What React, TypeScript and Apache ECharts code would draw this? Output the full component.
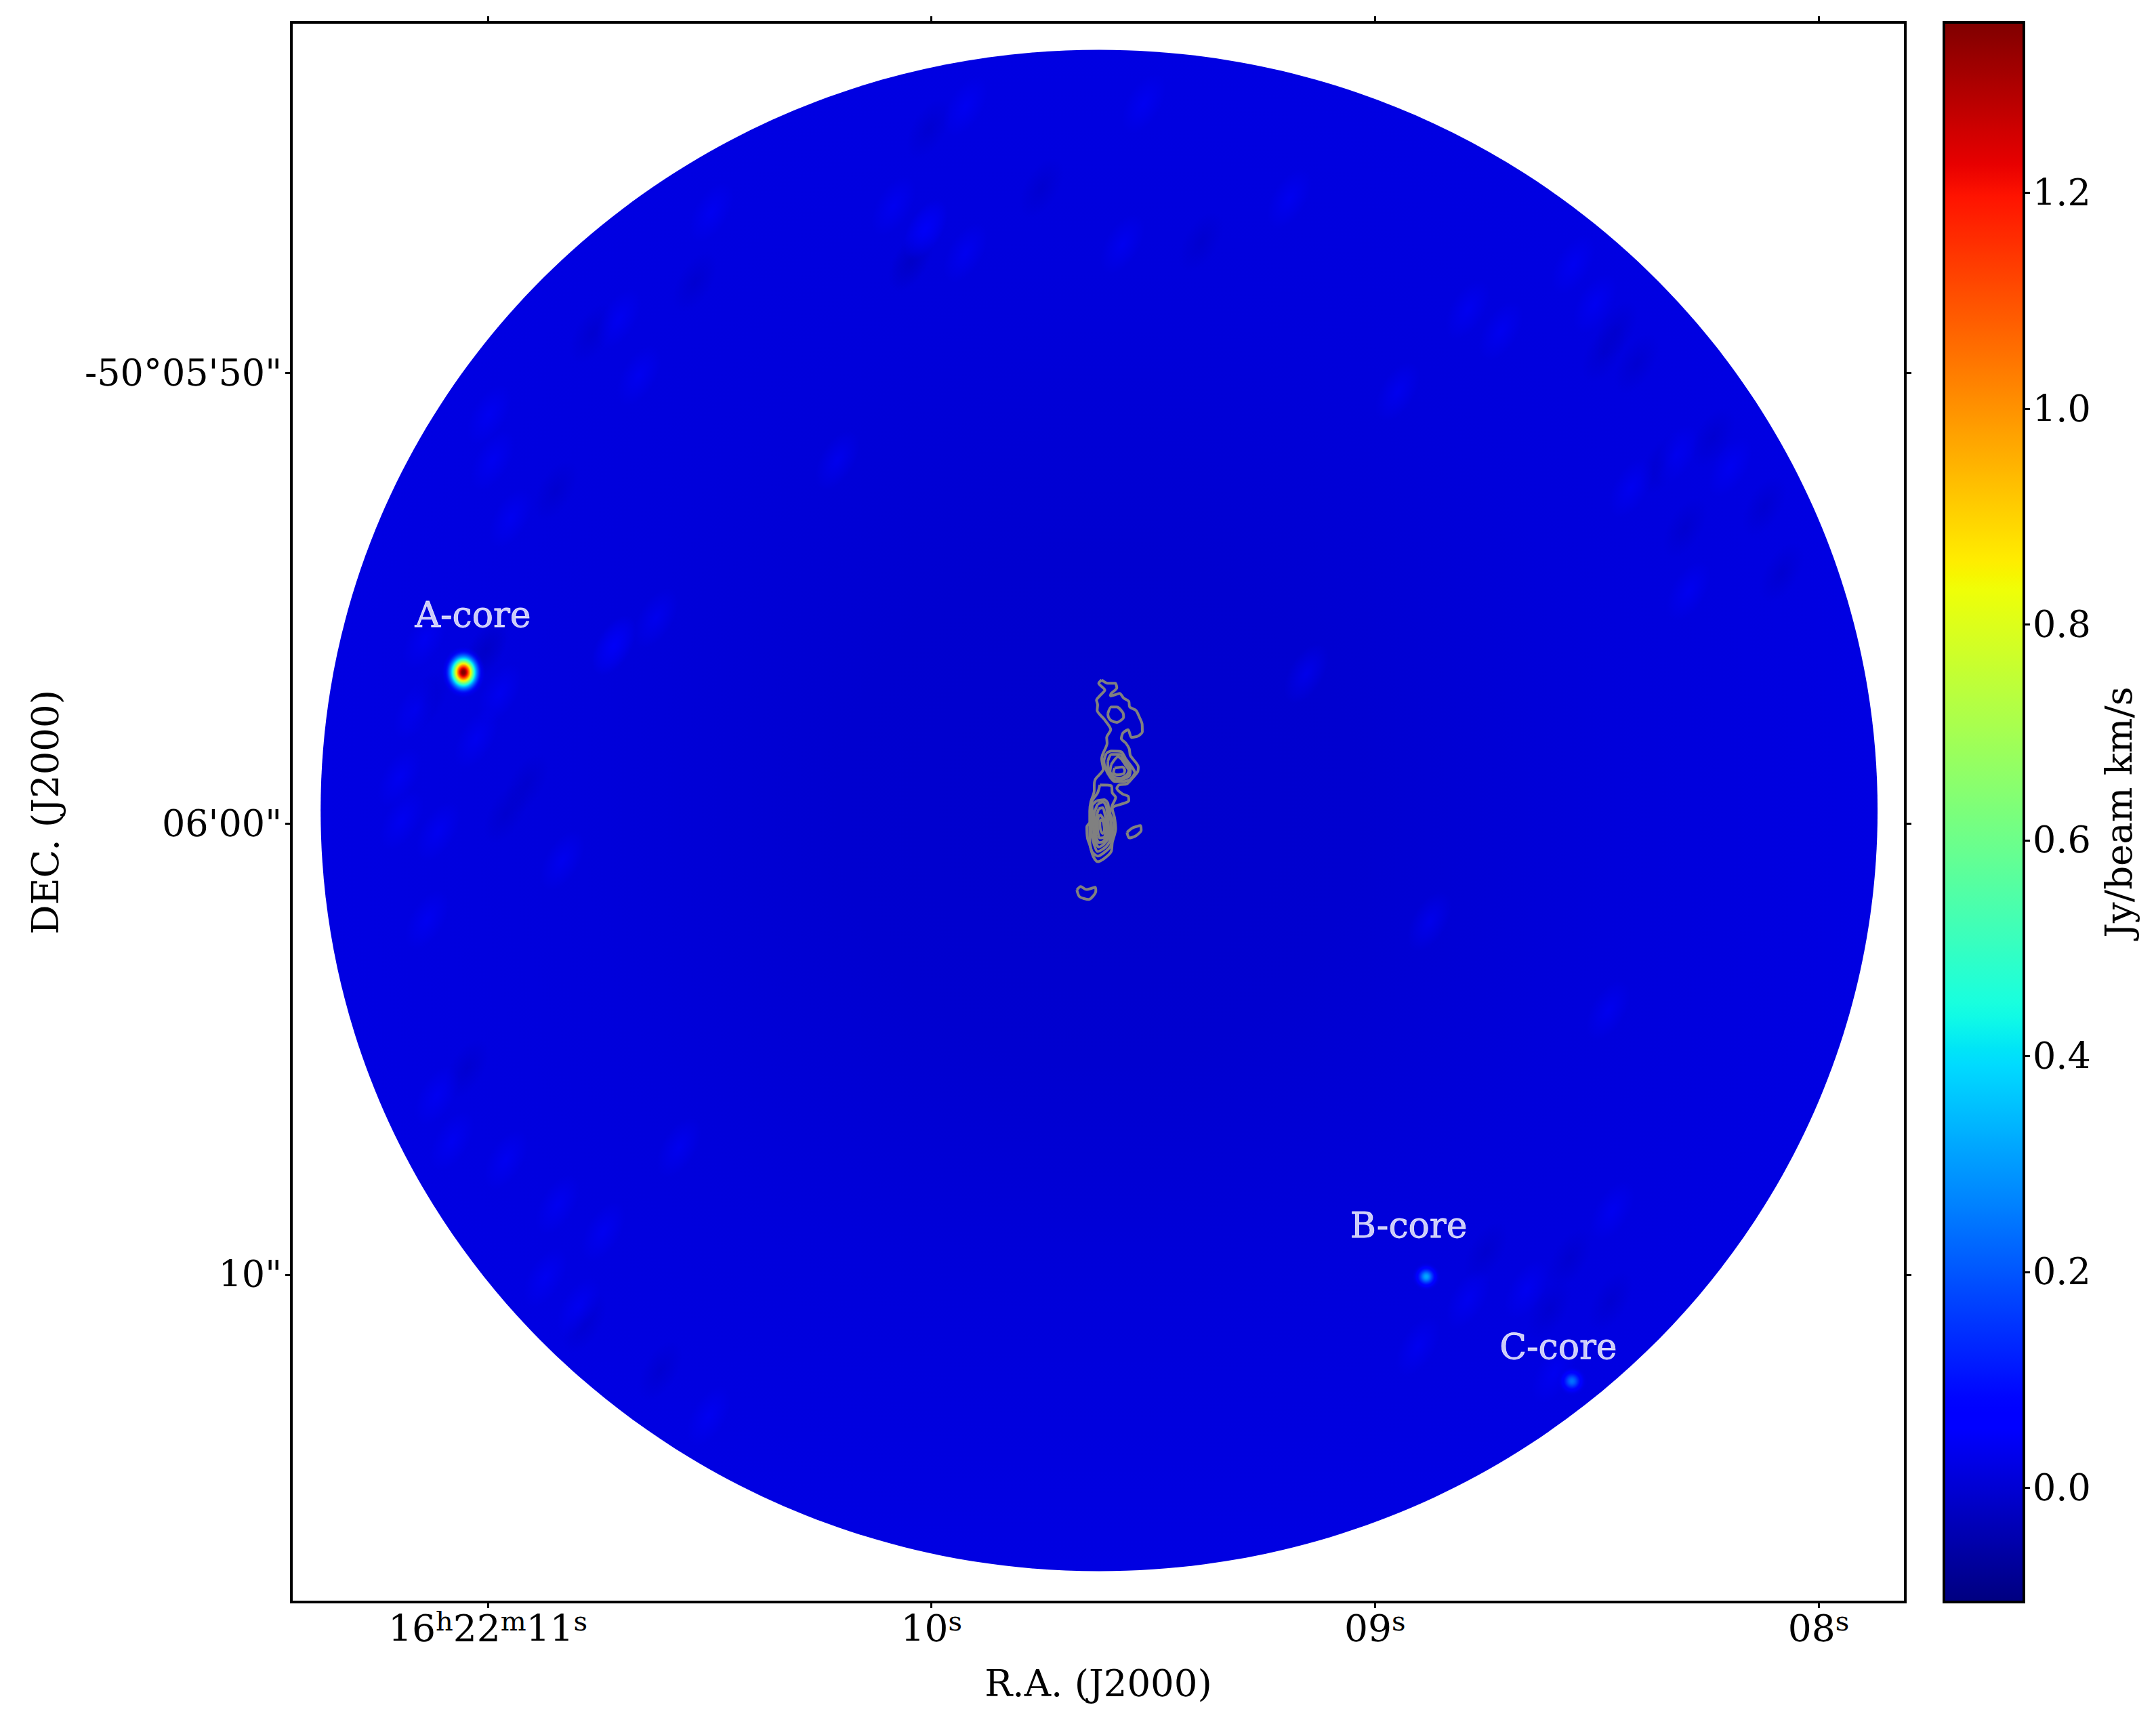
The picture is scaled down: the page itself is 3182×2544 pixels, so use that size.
import React, { useEffect, useRef } from "react";
import * as echarts from "echarts";

// ---- axes (R.A. seconds after 16h22m, Dec arcseconds after -50d05m) ----
const RA_MIN = 7.8045, RA_MAX = 11.443;
const DEC_MIN = 42.23, DEC_MAX = 77.26;
const raTicks = [8, 9, 10, 11];
const decTicks = [50, 60, 70];
const decLabels: Record<number, string> = { 50: "-50°05'50\"", 60: "06'00\"", 70: '10"' };
const CB_MIN = -0.106, CB_MAX = 1.358;
const cbTicks = [0, 0.2, 0.4, 0.6, 0.8, 1.0, 1.2];

// ---- primary-beam disk: ra, dec, radius in ra (s), radius in dec (") ----
const disk = [9.622, 59.707, 1.755, 16.87];
const diskLevels = [-0.008, -0.004, 0.01, 0.018]; // Jy/beam km/s, centre to rim

// ---- compact cores: ra, dec, peak, sigma ra, sigma dec ----
const cores = [
  [11.055, 56.642, 1.36, 0.0163, 0.19],
  [8.8845, 70.045, 0.3, 0.0107, 0.105],
  [8.556, 72.36, 0.22, 0.0115, 0.113],
];
const coreLabels: [string, number, number][] = [
  ["A-core", 11.0336, 55.364],
  ["B-core", 8.924, 68.9],
  ["C-core", 8.5867, 71.6],
];

// ---- faint emission blotches: ra, dec ----
const brightPatches = [
  [11.142, 55.91], [11.301, 58.87], [11.199, 58.97], [11.163, 57.47], [11.026, 58.11], [10.973, 57.11],
  [11.194, 59.92], [11.112, 60.17], [10.832, 60.82], [11.321, 60.92], [11.27, 62.17], [11.137, 62.13],
  [10.714, 56.06], [9.923, 44.09], [9.521, 44.03], [9.815, 43.24], [10.012, 46.8], [9.569, 47.15],
  [9.193, 46.14], [9.923, 47.34], [8.877, 62.17], [8.474, 64.14], [8.877, 44.79], [10.085, 46.3],
  [9.155, 56.67], [8.536, 46.92], [8.658, 70.33], [8.79, 70.54], [8.903, 71.59], [8.465, 68.59],
  [8.597, 72.19], [8.622, 72.69],
  [11.081, 67.04], [11.026, 69.05], [11.034, 69.38], [10.959, 67.45], [10.87, 70.06], [10.795, 70.72],
  [10.665, 72.87], [10.502, 73.14], [10.297, 74.42], [10.146, 74.96], [10.843, 68.45], [10.569, 67.18],
  [11.115, 66.03], [10.74, 69.05],
  [8.553, 47.6], [8.504, 48.47], [8.716, 49.07], [8.199, 50.56], [8.136, 51.16], [8.321, 51.82],
  [8.199, 52.09], [8.075, 52.96], [8.293, 54.84], [8.791, 48.6], [8.949, 50.42], [8.423, 52.55],
  [10.812, 48.39], [10.997, 50.93], [10.496, 46.44], [10.948, 53.22], [10.989, 51.94], [10.649, 47.01],
  [10.659, 50.06], [10.704, 48.8], [10.015, 46.84], [10.717, 56.04], [10.212, 51.94], [10.621, 55.44],
];
const darkPatches = [
  [11.005, 56.12], [11.137, 57.26], [11.341, 57.92], [10.913, 59.12], [10.959, 59.77], [9.425, 43.19],
  [9.705, 42.94], [9.752, 45.9], [9.392, 47.1], [10.006, 44.59], [10.045, 47.55], [8.561, 69.64],
  [8.607, 70.78], [8.75, 69.49], [8.469, 70.59],
  [10.679, 72.27], [10.611, 72.13], [10.782, 71.07], [10.849, 71.47], [11.156, 66.9], [10.549, 73.41], [11.047, 65.43],
  [8.327, 48.6], [8.484, 49.55], [8.41, 49.8], [8.225, 50.48], [8.238, 51.43], [8.096, 51.76],
  [8.354, 52.03], [8.301, 53.44], [8.122, 52.96], [7.994, 54.7], [8.083, 54.43], [8.457, 49.07],
  [10.928, 49.73], [10.765, 47.11], [10.765, 49.13], [10.048, 47.52], [10.847, 52.61], [10.629, 46.84],
  [10.533, 47.99], [11.003, 56.18],
];
const BRIGHT_LEVEL = 0.055, DARK_LEVEL = -0.03;
const PATCH_RA = 0.075, PATCH_DEC = 0.38;

// ---- gray contours, as map offsets from a reference position ----
const CONTOUR_RA0 = 9.7475, CONTOUR_DEC0 = 56.461, CONTOUR_STEP_RA = 0.000509, CONTOUR_STEP_DEC = 0.005009;
const contours: number[][][] = [
  [[258,70],[285,85],[318,85],[325,105],[300,130],[296,142],[320,135],[338,130],[355,150],[378,165],[382,190],[410,205],[425,235],[437,265],[438,300],[420,318],[390,325],[375,290],[352,305],[345,330],[365,350],[380,375],[385,405],[420,455],[418,475],[390,510],[370,530],[335,535],[325,550],[350,575],[375,585],[378,605],[345,620],[318,628],[305,640],[315,680],[320,730],[305,790],[300,830],[270,860],[240,875],[220,850],[205,800],[195,770],[192,720],[205,700],[205,650],[210,610],[225,560],[225,540],[230,510],[265,465],[258,420],[262,400],[282,350],[280,325],[298,290],[270,245],[238,205],[240,180],[235,160],[250,140],[272,115],[245,85],[258,70]],
  [[285,220],[300,190],[325,190],[352,215],[355,235],[325,258],[300,250],[288,235],[285,220]],
  [[278,395],[300,385],[345,388],[365,420],[395,460],[405,480],[385,510],[355,520],[315,520],[295,500],[278,470],[268,430],[278,395]],
  [[285,430],[300,400],[340,400],[360,430],[385,465],[380,495],[350,510],[320,515],[300,495],[285,460],[285,430]],
  [[300,445],[330,410],[345,420],[365,450],[378,470],[370,490],[340,505],[315,500],[295,475],[300,445]],
  [[315,460],[350,455],[360,470],[355,485],[325,490],[310,480],[315,460]],
  [[250,535],[300,538],[305,570],[320,590],[305,625],[295,660],[310,700],[305,770],[295,810],[240,850],[215,830],[205,780],[205,720],[215,660],[215,610],[240,570],[250,535]],
  [[235,605],[270,600],[285,615],[290,650],[298,700],[295,780],[275,810],[240,830],[225,800],[212,740],[218,680],[215,630],[235,605]],
  [[240,620],[265,610],[278,630],[285,680],[290,760],[270,795],[245,810],[228,780],[222,720],[225,660],[240,620]],
  [[245,640],[262,635],[275,680],[285,750],[265,785],[245,790],[232,750],[232,690],[245,640]],
  [[250,665],[262,680],[278,720],[270,765],[250,770],[240,730],[240,690],[250,665]],
  [[255,685],[265,700],[270,740],[262,750],[252,730],[250,700],[255,685]],
  [[370,745],[395,725],[430,715],[433,735],[410,760],[380,770],[370,745]],
  [[148,1000],[165,985],[190,998],[230,988],[232,1005],[200,1042],[160,1030],[148,1000]],
];

const SERIF = "'DejaVu Serif'";

// matplotlib "jet" transfer functions
const jetR = [[0, 0], [0.35, 0], [0.66, 1], [0.89, 1], [1, 0.5]];
const jetG = [[0, 0], [0.125, 0], [0.375, 1], [0.64, 1], [0.91, 0], [1, 0]];
const jetB = [[0, 0.5], [0.11, 1], [0.34, 1], [0.65, 0], [1, 0]];
function lerpTable(tab: number[][], t: number) {
  for (let i = 1; i < tab.length; i++) {
    if (t <= tab[i][0]) {
      const [a, va] = tab[i - 1];
      const [b, vb] = tab[i];
      return va + ((vb - va) * (t - a)) / (b - a);
    }
  }
  return tab[tab.length - 1][1];
}
function jetAt(t: number, alpha = 1) {
  const c = Math.max(0, Math.min(1, t));
  const f = (tab: number[][]) => Math.round(255 * lerpTable(tab, c));
  return `rgba(${f(jetR)},${f(jetG)},${f(jetB)},${alpha})`;
}
const valueColor = (v: number, alpha = 1) => jetAt((v - CB_MIN) / (CB_MAX - CB_MIN), alpha);

function ellipseFrom(api: any, ra: number, dec: number, dRa: number, dDec: number) {
  const c = api.coord([ra, dec]);
  const e = api.coord([ra + dRa, dec + dDec]);
  return { cx: c[0], cy: c[1], rx: Math.abs(e[0] - c[0]), ry: Math.abs(e[1] - c[1]) };
}
// keep blotches wholly inside the disk
const insideDisk = ([ra, dec]: number[]) =>
  Math.hypot((ra - disk[0]) / disk[2], (dec - disk[1]) / disk[3]) < 0.945;

export default function App() {
  const ref = useRef<HTMLDivElement>(null);
  useEffect(() => {
    document.body.style.margin = "0";
    const chart = echarts.init(ref.current!, undefined, { renderer: "svg" });
    const RG = (echarts.graphic as any).RadialGradient;
    const LG = (echarts.graphic as any).LinearGradient;

    const tickStyle = { show: true, inside: false, length: 9, lineStyle: { color: "#000", width: 3 } };
    const lineStyle = { show: true, onZero: false, lineStyle: { color: "#000", width: 4 } };
    const raLabel = (v: number) =>
      v === 11 ? "{n|16}{s|h}{n|22}{s|m}{n|11}{s|s}" : `{n|${String(v).padStart(2, "0")}}{s|s}`;

    const contourSeries = contours.map((c) => ({
      type: "line",
      xAxisIndex: 0,
      yAxisIndex: 0,
      silent: true,
      showSymbol: false,
      smooth: 0.25,
      z: 6,
      lineStyle: { color: "#808080", width: 4 },
      data: c.map(([x, y]) => [CONTOUR_RA0 - x * CONTOUR_STEP_RA, CONTOUR_DEC0 + y * CONTOUR_STEP_DEC]),
    }));

    const patchSeries = (rows: number[][], level: number, alpha: number, z: number) => ({
      type: "custom",
      xAxisIndex: 0,
      yAxisIndex: 0,
      silent: true,
      clip: true,
      z,
      data: rows.filter(insideDisk),
      encode: { x: 0, y: 1 },
      renderItem: (_: any, api: any) => {
        const e = ellipseFrom(api, api.value(0), api.value(1), PATCH_RA, PATCH_DEC);
        return {
          type: "ellipse",
          x: e.cx,
          y: e.cy,
          rotation: Math.PI / 3,
          shape: { cx: 0, cy: 0, rx: e.rx, ry: e.ry },
          style: {
            fill: new RG(0.5, 0.5, 0.5, [
              { offset: 0, color: valueColor(level, alpha) },
              { offset: 1, color: valueColor(level, 0) },
            ]),
          },
        };
      },
    });

    const option: any = {
      animation: false,
      backgroundColor: "#fff",
      textStyle: { fontFamily: SERIF },
      grid: [
        { left: 430, top: 33, width: 2382, height: 2331, show: true, borderColor: "#000", borderWidth: 4, backgroundColor: "transparent" },
        { left: 2869, top: 33, width: 118, height: 2331 },
      ],
      xAxis: [
        {
          type: "value", gridIndex: 0, position: "bottom", inverse: true, min: RA_MIN, max: RA_MAX,
          name: "R.A. (J2000)", nameLocation: "middle", nameGap: 92,
          nameTextStyle: { fontFamily: SERIF, fontSize: 54.5, color: "#000" },
          axisLine: lineStyle, axisTick: { ...tickStyle, customValues: raTicks }, splitLine: { show: false },
          axisLabel: {
            customValues: raTicks, margin: 8, formatter: raLabel, color: "#000", fontFamily: SERIF,
            rich: {
              n: { fontFamily: SERIF, fontSize: 55, color: "#000", lineHeight: 62 },
              s: { fontFamily: SERIF, fontSize: 40, color: "#000", verticalAlign: "top", lineHeight: 44 },
            },
          },
        },
        {
          type: "value", gridIndex: 0, position: "top", inverse: true, min: RA_MIN, max: RA_MAX,
          axisLine: lineStyle, axisTick: { ...tickStyle, customValues: raTicks },
          axisLabel: { show: false, customValues: raTicks }, splitLine: { show: false },
        },
        { type: "value", gridIndex: 1, min: 0, max: 1, show: false },
      ],
      yAxis: [
        {
          type: "value", gridIndex: 0, position: "left", inverse: true, min: DEC_MIN, max: DEC_MAX,
          name: "DEC. (J2000)", nameLocation: "middle", nameGap: 336, nameRotate: 90,
          nameTextStyle: { fontFamily: SERIF, fontSize: 54.5, color: "#000" },
          axisLine: lineStyle, axisTick: { ...tickStyle, customValues: decTicks }, splitLine: { show: false },
          axisLabel: {
            customValues: decTicks, margin: 14, color: "#000", fontFamily: SERIF, fontSize: 54,
            formatter: (v: number) => decLabels[v] ?? "",
          },
        },
        {
          type: "value", gridIndex: 0, position: "right", inverse: true, min: DEC_MIN, max: DEC_MAX,
          axisLine: lineStyle, axisTick: { ...tickStyle, customValues: decTicks },
          axisLabel: { show: false, customValues: decTicks }, splitLine: { show: false },
        },
        {
          type: "value", gridIndex: 1, position: "right", min: CB_MIN, max: CB_MAX,
          name: "Jy/beam km/s", nameLocation: "middle", nameGap: 112, nameRotate: 90,
          nameTextStyle: { fontFamily: SERIF, fontSize: 54.5, color: "#000" },
          axisLine: lineStyle, axisTick: { ...tickStyle, customValues: cbTicks }, splitLine: { show: false },
          axisLabel: {
            customValues: cbTicks, margin: 13, color: "#000", fontFamily: SERIF, fontSize: 54,
            formatter: (v: number) => v.toFixed(1),
          },
        },
      ],
      series: [
        {
          type: "custom", xAxisIndex: 0, yAxisIndex: 0, silent: true, z: 1,
          data: [disk], encode: { x: 0, y: 1 }, clip: false,
          renderItem: (_: any, api: any) => {
            const e = ellipseFrom(api, api.value(0), api.value(1), api.value(2), api.value(3));
            return {
              type: "ellipse",
              shape: e,
              style: {
                fill: new RG(0.5, 0.5, 0.5, diskLevels.map((v, i) => ({ offset: i / (diskLevels.length - 1), color: valueColor(v) }))),
              },
            };
          },
        },
        patchSeries(darkPatches, DARK_LEVEL, 0.4, 2),
        patchSeries(brightPatches, BRIGHT_LEVEL, 0.55, 2),
        {
          type: "custom", xAxisIndex: 0, yAxisIndex: 0, silent: true, z: 4,
          data: cores, encode: { x: 0, y: 1 }, clip: false,
          renderItem: (_: any, api: any) => {
            const peak = api.value(2);
            const e = ellipseFrom(api, api.value(0), api.value(1), 3 * api.value(3), 3 * api.value(4));
            const stops = [];
            for (let i = 0; i <= 24; i++) {
              const t = i / 24;
              const v = peak * Math.exp(-(t * 3) * (t * 3) / 2) + 0.02;
              stops.push({ offset: t, color: valueColor(v, t > 0.7 ? Math.max(0, (1 - t) / 0.3) : 1) });
            }
            return { type: "ellipse", shape: e, style: { fill: new RG(0.5, 0.5, 0.5, stops) } };
          },
        },
        ...contourSeries,
        {
          type: "scatter", xAxisIndex: 0, yAxisIndex: 0, silent: true, z: 8, symbolSize: 0,
          data: coreLabels.map(([name, ra, dec]) => ({ name, value: [ra, dec] })),
          label: {
            show: true, position: "inside", formatter: "{b}", color: "#fff", fontFamily: SERIF, fontSize: 52,
            textBorderColor: "#fff", textBorderWidth: 0.8,
          },
        },
        {
          type: "custom", xAxisIndex: 2, yAxisIndex: 2, silent: true, z: 1,
          data: [[0, CB_MIN, 1, CB_MAX]], encode: { x: 0, y: 1 }, clip: false,
          renderItem: (_: any, api: any) => {
            const a = api.coord([api.value(0), api.value(3)]);
            const b = api.coord([api.value(2), api.value(1)]);
            const stops = [];
            for (let i = 0; i <= 100; i++) stops.push({ offset: i / 100, color: jetAt(1 - i / 100) });
            return {
              type: "rect",
              shape: { x: a[0], y: a[1], width: b[0] - a[0], height: b[1] - a[1] },
              style: { fill: new LG(0, 0, 0, 1, stops), stroke: "#000", lineWidth: 4 },
            };
          },
        },
      ],
    };
    chart.setOption(option);
    return () => chart.dispose();
  }, []);
  return <div ref={ref} style={{ position: "absolute", left: 0, top: 0, width: 3182, height: 2544 }} />;
}
